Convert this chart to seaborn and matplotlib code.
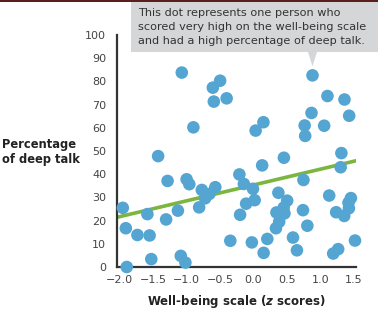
import matplotlib
matplotlib.use("Agg")
import matplotlib.pyplot as plt
import seaborn as sns
import pandas as pd
import numpy as np
from matplotlib.patches import Rectangle, Polygon

# Well-being z scores and percentage of deep talk (one dot per person)
wellbeing = [-1.069, -0.497, -0.606, -0.591, -0.40, -0.896, -1.422, 0.881, 1.104, 1.358,
             0.866, 1.428, 0.149, 0.033, 0.764, 1.055, 0.772, 0.454, 1.312, -1.281,
             -0.997, -0.957, -0.770, -0.721, -0.657, -0.569, -1.949, -1.582, -1.127, -0.810,
             -1.303, -1.904, -1.731, -1.549, -0.345, -1.524, -1.084, -1.015, -1.890, 0.130,
             1.301, -0.210, -0.143, -0.007, 0.746, 0.372, 0.503, 0.451, 0.343, 0.463,
             0.384, 0.336, -0.109, 0.018, -0.199, 1.130, 0.739, 0.804, 1.234, 1.354,
             1.454, 1.418, 1.424, 0.590, 0.649, 0.207, -0.024, 0.152, 1.264, 1.190,
             1.515]
deep_talk = [83.8, 80.3, 77.3, 71.3, 72.7, 60.2, 47.8, 82.6, 73.7, 72.2,
             66.4, 65.2, 62.4, 58.8, 61.0, 60.9, 56.5, 47.1, 49.1, 37.1,
             37.8, 35.7, 33.2, 29.6, 31.5, 34.4, 25.5, 22.8, 24.3, 25.7,
             20.5, 16.7, 13.8, 13.6, 11.3, 3.4, 4.8, 1.9, 0.0, 43.8,
             43.0, 39.9, 35.8, 33.7, 37.5, 32.0, 28.6, 25.6, 23.5, 23.1,
             19.5, 16.7, 27.3, 28.8, 22.5, 30.8, 24.5, 17.8, 23.6, 22.0,
             29.7, 27.7, 25.3, 12.7, 7.2, 12.1, 10.6, 6.1, 7.7, 5.8,
             11.4]
# trend line as drawn in the chart (end points)
fit_x = [-2.04, 1.53]
fit_y = [21.4, 45.8]
x_ticks = [-2.0, -1.5, -1.0, -0.5, 0.0, 0.5, 1.0, 1.5]
y_ticks = [0, 10, 20, 30, 40, 50, 60, 70, 80, 90, 100]
note_lines = ["This dot represents one person who",
              "scored very high on the well-being scale",
              "and had a high percentage of deep talk."]
highlight = (0.881, 82.6)

df = pd.DataFrame({"wellbeing": wellbeing, "deep_talk": deep_talk})
fit = pd.DataFrame({"x": fit_x, "y": fit_y})

sns.set_style("white")
plt.rcParams["font.family"] = ["DejaVu Sans"]

W, H = 378, 324
fig = plt.figure(figsize=(W / 100, H / 100), dpi=100)
ax = fig.add_axes([116.7 / W, 1 - 267 / H, (356 - 116.7) / W, (267 - 35) / H])

BLUE = "#54a5d2"
GREEN = "#7ab640"

sns.lineplot(data=fit, x="x", y="y", ax=ax, color=GREEN, lw=2.6, zorder=2)
sns.scatterplot(data=df, x="wellbeing", y="deep_talk", ax=ax, s=82, color=BLUE,
                edgecolor="none", alpha=1, clip_on=False, zorder=3)

ax.set_xlim(-2.04, 1.53)
ax.set_ylim(0, 100)
ax.set_xticks(x_ticks)
ax.set_xticklabels([f"{t:.1f}".replace("-", "\u2212") for t in x_ticks])
ax.set_yticks(y_ticks)
ax.set_yticklabels([str(t) for t in y_ticks])
ax.tick_params(axis="y", length=0, labelsize=8, labelcolor="#444444", pad=7.5)
ax.tick_params(axis="x", length=0, labelsize=8, labelcolor="#444444", pad=6)
sns.despine(ax=ax)
for s in ["left", "bottom"]:
    ax.spines[s].set_color("#333333")
    ax.spines[s].set_linewidth(1.6)
ax.set_xlabel("")
ax.set_ylabel("")

fig.text(236.5 / W, 1 - 301 / H, r"Well-being scale ($\mathbfit{z}$ scores)", ha="center", va="center",
         fontsize=8.5, fontweight="bold", color="#222222")
fig.text(2 / W, 1 - 152 / H, "Percentage\nof deep talk", ha="left", va="center",
         fontsize=8.3, fontweight="bold", color="#222222", linespacing=1.2)

# annotation box
fig.patches.append(Rectangle((131 / W, 1 - 52 / H), (W - 131) / W, 50 / H,
                             transform=fig.transFigure, facecolor="#d5d6d8", edgecolor="none"))
tip = ax.transData.transform(highlight)
tipx, tipy = tip[0], tip[1] + 9
fig.patches.append(Polygon([((tipx - 4.5) / W, (H - 52) / H), ((tipx + 4.5) / W, (H - 52) / H),
                            (tipx / W, tipy / H)], closed=True, transform=fig.transFigure,
                           facecolor="#d5d6d8", edgecolor="none"))
fig.patches.append(Rectangle((0, 1 - 2 / H), 1, 2 / H, transform=fig.transFigure,
                             facecolor="#5a1e1e", edgecolor="none"))
for i, line in enumerate(note_lines):
    fig.text(138 / W, 1 - (13 + 14.2 * i) / H, line, ha="left", va="center",
             fontsize=8.15, color="#333333")

fig.savefig("out.png", dpi=100)
